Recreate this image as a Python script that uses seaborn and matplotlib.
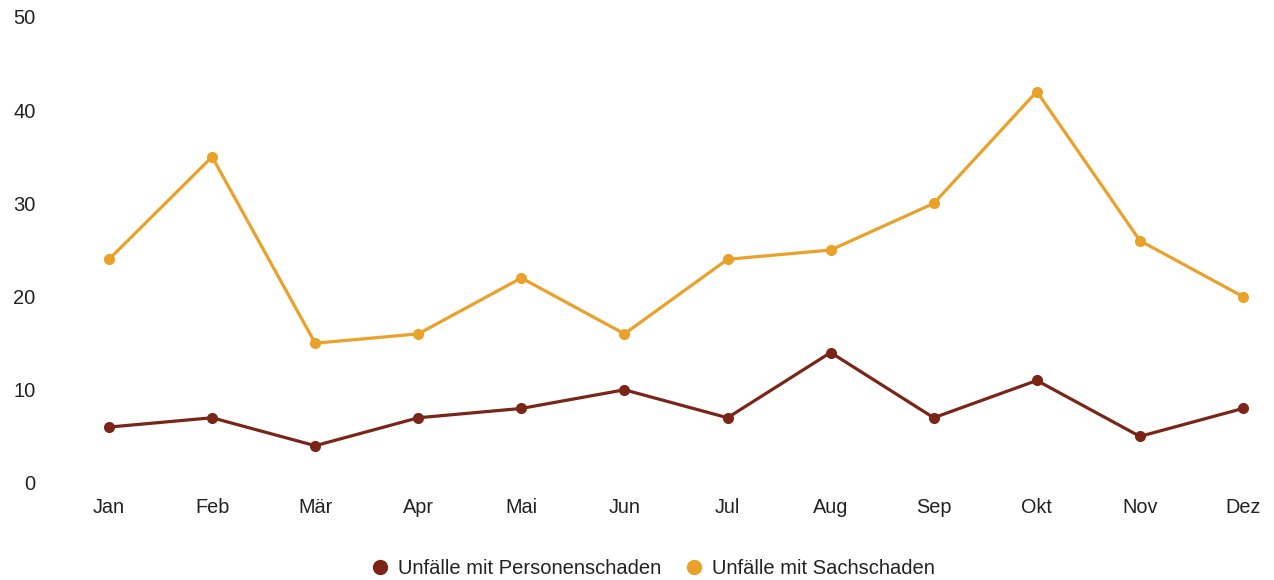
import numpy as np
import pandas as pd
import matplotlib.pyplot as plt
import seaborn as sns

# ---- Data ----
months = ["Jan", "Feb", "Mär", "Apr", "Mai", "Jun", "Jul", "Aug", "Sep", "Okt", "Nov", "Dez"]
personen = [6, 7, 4, 7, 8, 10, 7, 14, 7, 11, 5, 8]
sach = [24, 35, 15, 16, 22, 16, 24, 25, 30, 42, 26, 20]

label_p = "Unfälle mit Personenschaden"
label_s = "Unfälle mit Sachschaden"
colors = {label_p: "#7b2518", label_s: "#eaa12a"}

df = pd.DataFrame({
    "month": months * 2,
    "x": list(range(len(months))) * 2,
    "value": personen + sach,
    "series": [label_p] * len(months) + [label_s] * len(months),
})

# ---- Plot ----
sns.set_style("white")
plt.rcParams["font.family"] = ["Liberation Sans", "DejaVu Sans"]

fig = plt.figure(figsize=(12.74, 5.8), dpi=100)
ax = fig.add_axes([109 / 1274, 97 / 580, (1243 - 109) / 1274, (483 - 17) / 580])

sns.lineplot(data=df, x="x", y="value", hue="series", palette=colors,
             marker="o", markersize=8, linewidth=2.3, markeredgewidth=0,
             ax=ax, legend=False, clip_on=False)

ax.set_xlim(0, len(months) - 1)
ax.set_ylim(0, 50)
ax.set_xticks(range(len(months)))
ax.set_xticklabels(months)
ax.set_yticks([0, 10, 20, 30, 40, 50])
ax.set_xlabel("")
ax.set_ylabel("")
ax.tick_params(axis="y", length=0, pad=53, labelsize=14.5, labelcolor="#222222")
ax.tick_params(axis="x", length=0, pad=11, labelsize=14.3, labelcolor="#222222")
for s in ax.spines.values():
    s.set_visible(False)

handles = [plt.Line2D([], [], marker="o", linestyle="", markersize=10,
                      color=colors[k]) for k in (label_p, label_s)]
fig.legend(handles, [label_p, label_s], loc="center", bbox_to_anchor=(0.512, 0.02),
           ncol=2, frameon=False, fontsize=14.5, handletextpad=0.4,
           columnspacing=1.1, handlelength=1.0, labelcolor="#222222")

fig.savefig("out.png", dpi=100)
